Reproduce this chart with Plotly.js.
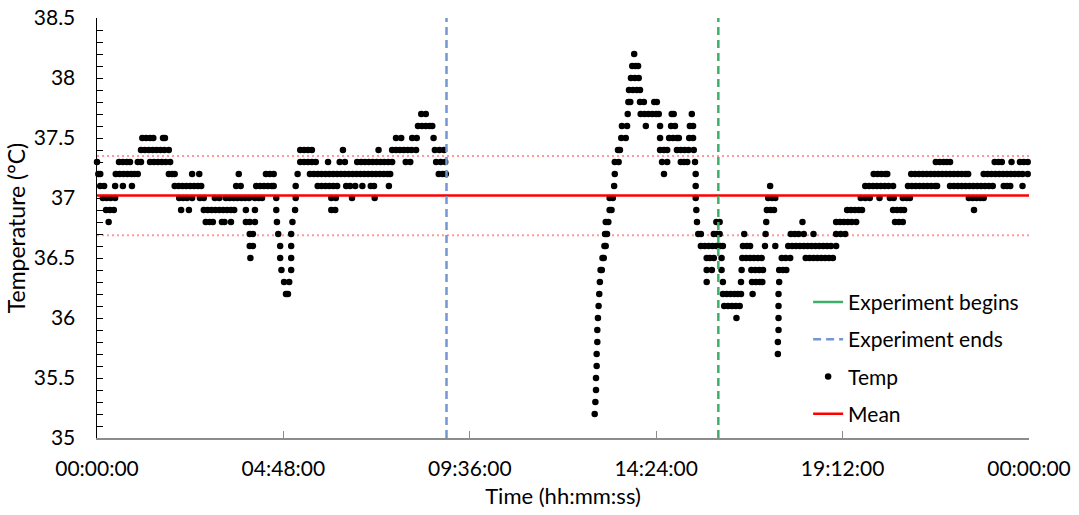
<!DOCTYPE html>
<html>
<head>
<meta charset="utf-8">
<script src="https://cdn.plot.ly/plotly-3.0.1.min.js"></script>
<style>html,body{margin:0;padding:0;background:#fff;}#chart{width:1079px;height:515px;}</style>
</head>
<body>
<div id="chart"></div>
<script>
// Time axis in minutes since 00:00:00
const tickValues = [0, 288, 576, 864, 1152, 1440];
const tickLabels = ['00:00:00', '04:48:00', '09:36:00', '14:24:00', '19:12:00', '00:00:00'];

// Temperature readings, grouped by recorded level (°C) -> minutes at which that level was recorded
const tempLevels = [35.2, 35.3, 35.4, 35.5, 35.6, 35.7, 35.8, 35.9, 36.0, 36.1, 36.2, 36.3, 36.4, 36.5, 36.6, 36.7, 36.8, 36.9, 37.0, 37.1, 37.2, 37.3, 37.4, 37.5, 37.6, 37.7, 37.8, 37.9, 38.0, 38.1, 38.2];
const minutesAtLevel = [
  [769],
  [770],
  [771],
  [771],
  [772],
  [772, 1052],
  [773, 1052],
  [773, 1053],
  [774, 988, 1053],
  [775, 969, 975, 981, 987, 993, 1053],
  [292, 295, 776, 967, 973, 979, 985, 990, 995, 1013, 1053],
  [289, 297, 777, 942, 967, 995, 1012, 1018, 1024, 1028, 1054],
  [285, 300, 778, 780, 942, 950, 965, 996, 1011, 1017, 1023, 1029, 1054, 1060, 1065],
  [237, 283, 300, 781, 783, 942, 947, 953, 965, 997, 1003, 1009, 1015, 1021, 1027, 1058, 1064, 1071, 1095, 1101, 1107, 1113, 1119, 1125, 1131, 1137],
  [236, 241, 283, 300, 784, 786, 933, 939, 945, 951, 957, 963, 967, 998, 1004, 1009, 1032, 1048, 1068, 1074, 1080, 1086, 1092, 1098, 1104, 1110, 1116, 1122, 1128, 1134, 1142],
  [236, 241, 280, 300, 785, 788, 929, 933, 953, 958, 962, 1000, 1033, 1072, 1078, 1084, 1092, 1107, 1142, 1149, 1156],
  [18, 168, 174, 179, 193, 197, 207, 230, 236, 244, 278, 302, 786, 790, 927, 957, 962, 1034, 1090, 1142, 1148, 1154, 1160, 1166, 1173, 1233, 1239, 1245],
  [14, 20, 26, 130, 142, 165, 171, 177, 183, 189, 195, 201, 207, 212, 230, 244, 277, 306, 362, 368, 792, 795, 926, 1035, 1041, 1046, 1159, 1165, 1171, 1177, 1182, 1230, 1236, 1242, 1247, 1355],
  [9, 15, 21, 28, 127, 133, 139, 147, 159, 165, 182, 189, 199, 205, 211, 217, 223, 229, 235, 244, 250, 255, 277, 307, 362, 369, 394, 429, 792, 797, 925, 1037, 1043, 1048, 1180, 1187, 1194, 1209, 1225, 1231, 1245, 1251, 1256, 1347, 1353, 1359, 1365, 1370],
  [5, 11, 28, 40, 54, 120, 126, 132, 138, 144, 150, 156, 161, 215, 222, 246, 252, 258, 264, 270, 273, 307, 341, 347, 353, 359, 365, 371, 385, 391, 399, 410, 423, 428, 451, 799, 925, 1040, 1187, 1193, 1199, 1205, 1211, 1217, 1223, 1230, 1253, 1259, 1265, 1271, 1277, 1283, 1289, 1295, 1298, 1318, 1324, 1330, 1336, 1342, 1348, 1354, 1360, 1366, 1372, 1378, 1384, 1401, 1406, 1411, 1430],
  [2, 5, 29, 35, 41, 47, 53, 58, 63, 111, 116, 120, 147, 158, 219, 261, 267, 273, 310, 329, 335, 341, 347, 353, 359, 365, 371, 377, 383, 389, 395, 401, 407, 413, 419, 425, 431, 437, 443, 449, 453, 528, 534, 539, 800, 876, 925, 1200, 1206, 1212, 1218, 1221, 1258, 1264, 1270, 1276, 1282, 1288, 1294, 1300, 1306, 1312, 1318, 1324, 1330, 1336, 1342, 1346, 1370, 1376, 1382, 1388, 1394, 1400, 1406, 1412, 1418, 1424, 1430, 1438],
  [0, 34, 40, 46, 51, 63, 68, 82, 88, 94, 100, 106, 113, 314, 320, 326, 332, 338, 357, 375, 383, 402, 408, 414, 420, 426, 432, 438, 444, 450, 456, 477, 484, 524, 531, 538, 800, 806, 873, 881, 902, 907, 912, 924, 1296, 1302, 1308, 1313, 1318, 1387, 1393, 1398, 1413, 1426, 1432, 1438],
  [68, 74, 80, 86, 92, 98, 104, 111, 314, 320, 326, 332, 380, 435, 456, 462, 468, 474, 480, 486, 493, 522, 529, 536, 805, 808, 870, 876, 881, 896, 902, 908, 914, 922],
  [70, 76, 82, 87, 102, 105, 462, 470, 487, 494, 520, 810, 817, 870, 884, 890, 896, 899, 915, 921],
  [496, 502, 508, 514, 518, 811, 819, 848, 870, 887, 893, 916, 921],
  [501, 508, 820, 840, 846, 852, 858, 864, 868, 888, 891, 919],
  [821, 824, 839, 845, 861, 865],
  [822, 828, 834, 839],
  [825, 831, 837],
  [827, 832, 836],
  [830]
];

const meanTemp = 37.02;
const upperBand = 37.35;
const lowerBand = 36.69;
const experimentEndsMin = 540;    // 09:00
const experimentBeginsMin = 960;  // 16:00
const dayStart = 0, dayEnd = 1440;
const yMin = 35, yMax = 38.5;

const tx = [], ty = [];
tempLevels.forEach((lv, i) => minutesAtLevel[i].forEach(m => { tx.push(m); ty.push(lv); }));

const green = '#3FAE6A', blue = '#7397D3', red = '#FF0000', pink = '#FF9A9A';
const traces = [
  {x: [dayStart, dayEnd], y: [upperBand, upperBand], mode: 'lines', line: {color: pink, width: 2, dash: '2px,3px'}, showlegend: false, legendgroup: 'u', hoverinfo: 'skip'},
  {x: [dayStart, dayEnd], y: [lowerBand, lowerBand], mode: 'lines', line: {color: pink, width: 2, dash: '2px,3px'}, showlegend: false, legendgroup: 'l', hoverinfo: 'skip'},
  {x: tx, y: ty, mode: 'markers', name: 'Temp', marker: {color: '#000', size: 6.5}, cliponaxis: false, legendrank: 3, legendgroup: 'g3'},
  {x: [dayStart, dayEnd], y: [meanTemp, meanTemp], mode: 'lines', name: 'Mean', line: {color: red, width: 2.5}, legendrank: 4, legendgroup: 'g4'},
  {x: [experimentEndsMin, experimentEndsMin], y: [yMin, yMax], mode: 'lines', name: 'Experiment ends', line: {color: blue, width: 2.5, dash: '8px,5px'}, legendrank: 2, legendgroup: 'g2'},
  {x: [experimentBeginsMin, experimentBeginsMin], y: [yMin, yMax], mode: 'lines', name: 'Experiment begins', line: {color: green, width: 2.5, dash: '8px,5px'}, showlegend: false, legendgroup: 'g5'},
  {x: [null], y: [null], mode: 'lines', name: 'Experiment begins', line: {color: green, width: 2.5}, legendrank: 1, legendgroup: 'g1'}
];

const fontFam = 'Lato, "Open Sans", sans-serif';
const layout = {
  width: 1079, height: 515,
  margin: {l: 97, r: 50, t: 18, b: 77},
  paper_bgcolor: '#fff', plot_bgcolor: '#fff',
  font: {family: fontFam, size: 21, color: '#000'},
  showlegend: true,
  legend: {x: 0.763, y: 0.372, xanchor: 'left', yanchor: 'top', bgcolor: 'rgba(0,0,0,0)', font: {size: 21, family: fontFam}, tracegroupgap: 7, traceorder: 'grouped'},
  xaxis: {
    range: [dayStart, dayEnd], tickmode: 'array', tickvals: tickValues, ticktext: tickLabels,
    showgrid: false, zeroline: false, showline: true, linecolor: '#8C8C8C', linewidth: 1.5,
    ticks: 'inside', ticklen: 7, tickcolor: '#8C8C8C', ticklabelstandoff: 11,
    tickfont: {size: 21}, automargin: false,
    title: {text: 'Time (hh:mm:ss)', font: {size: 22}, standoff: 10}
  },
  yaxis: {
    range: [yMin, yMax], tick0: 35, dtick: 0.5, showgrid: false, zeroline: false,
    showline: true, linecolor: '#000', linewidth: 1.5,
    ticks: 'inside', ticklen: 6, tickcolor: '#000', ticklabelstandoff: 16,
    minor: {dtick: 0.1, ticks: 'inside', ticklen: 6, tickcolor: '#000', showgrid: false},
    tickfont: {size: 21}, automargin: false,
    title: {text: 'Temperature (°C)', font: {size: 23}, standoff: 1}
  }
};

Plotly.newPlot('chart', traces, layout, {displayModeBar: false, staticPlot: true});
</script>
</body>
</html>
